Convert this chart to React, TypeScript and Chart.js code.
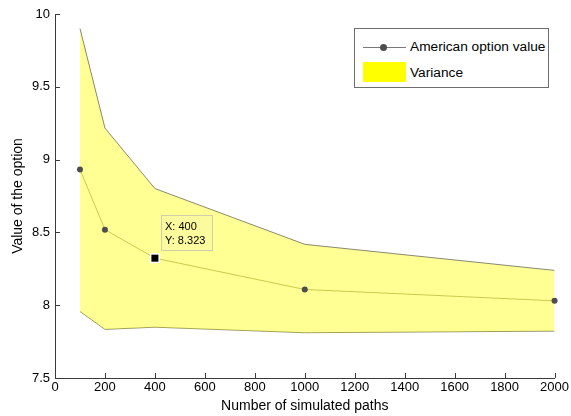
import React, { useEffect, useRef } from "react";
import { Chart, registerables } from "chart.js";

Chart.register(...registerables);

const pathCounts = [100, 200, 400, 1000, 2000];
const optionValue = [8.932, 8.519, 8.323, 8.108, 8.03];
const varianceUpper = [9.9, 9.216, 8.801, 8.418, 8.239];
const varianceLower = [7.957, 7.834, 7.849, 7.811, 7.822];
const datatipX = 400;
const datatipY = 8.323;

const FONT = 'Arial, "Liberation Sans", Helvetica, sans-serif';
const AXIS_COLOR = "#3a3a3a";

const toXY = (ys: number[]) => pathCounts.map((x, i) => ({ x, y: ys[i] }));

const inwardTicks = {
  id: "inwardTicks",
  afterDraw(chart: any) {
    const ctx = chart.ctx;
    const xs = chart.scales.x;
    const ys = chart.scales.y;
    const area = chart.chartArea;
    ctx.save();
    ctx.strokeStyle = AXIS_COLOR;
    ctx.lineWidth = 1;
    ctx.beginPath();
    xs.ticks.forEach((t: any) => {
      const p = Math.round(xs.getPixelForValue(t.value)) + 0.5;
      ctx.moveTo(p, area.bottom);
      ctx.lineTo(p, area.bottom - 5);
    });
    ys.ticks.forEach((t: any) => {
      const p = Math.round(ys.getPixelForValue(t.value)) + 0.5;
      ctx.moveTo(area.left, p);
      ctx.lineTo(area.left + 5, p);
    });
    ctx.stroke();
    ctx.restore();
  },
};

const datatip = {
  id: "datatip",
  afterDatasetsDraw(chart: any) {
    const ctx = chart.ctx;
    const px = chart.scales.x.getPixelForValue(datatipX);
    const py = chart.scales.y.getPixelForValue(datatipY);
    ctx.save();
    const left = Math.round(px + 6) + 0.5;
    const top = Math.round(py - 43) + 0.5;
    const w = 51;
    const h = 35;
    ctx.fillStyle = "#FBFB9E";
    ctx.fillRect(left, top, w, h);
    ctx.strokeStyle = "#CFCFB0";
    ctx.lineWidth = 1;
    ctx.strokeRect(left, top, w, h);
    ctx.fillStyle = "#000";
    ctx.font = `11px ${FONT}`;
    ctx.textBaseline = "alphabetic";
    ctx.textAlign = "left";
    ctx.fillText(`X: ${datatipX}`, left + 3.5, top + 14);
    ctx.fillText(`Y: ${datatipY}`, left + 3.5, top + 28);
    ctx.fillStyle = "#fff";
    ctx.fillRect(px - 5, py - 5, 10, 10);
    ctx.fillStyle = "#000";
    ctx.fillRect(px - 3.5, py - 3.5, 7, 7);
    ctx.restore();
  },
};

export default function App() {
  const ref = useRef<HTMLCanvasElement | null>(null);

  useEffect(() => {
    if (!ref.current) return;
    const chart = new Chart(ref.current, {
      type: "line",
      data: {
        datasets: [
          {
            label: "American option value",
            data: toXY(optionValue),
            borderColor: "#CACA4E",
            borderWidth: 1,
            pointRadius: 3,
            pointBackgroundColor: "#4d4d4d",
            pointBorderColor: "#4d4d4d",
            pointBorderWidth: 0,
            fill: false,
            clip: false,
            order: 0,
          } as any,
          {
            label: "Variance",
            data: toXY(varianceUpper),
            borderColor: "#8a8a6e",
            borderWidth: 1,
            pointRadius: 0,
            backgroundColor: "rgba(255,255,0,0.42)",
            fill: "+1",
            order: 1,
          },
          {
            label: "Variance lower",
            data: toXY(varianceLower),
            borderColor: "#8a8a6e",
            borderWidth: 1,
            pointRadius: 0,
            fill: false,
            order: 2,
          },
        ],
      },
      options: {
        responsive: false,
        animation: false,
        events: [],
        layout: { padding: { top: 14, right: 16, left: 0, bottom: 0 } },
        plugins: { legend: { display: false }, tooltip: { enabled: false } },
        scales: {
          x: {
            type: "linear",
            min: 0,
            max: 2000,
            grid: { display: false, drawTicks: false },
            border: { display: true, color: AXIS_COLOR, width: 1 },
            ticks: {
              stepSize: 200,
              color: "#000",
              font: { family: FONT, size: 13 },
              padding: 2,
              maxRotation: 0,
              autoSkip: false,
              callback: (v: any) => String(Number(v)),
            },
            title: {
              display: true,
              text: "Number of simulated paths",
              color: "#000",
              font: { family: FONT, size: 14 },
              padding: { top: 0, bottom: 1 },
            },
            afterFit(scale: any) {
              scale.height = 38;
            },
          },
          y: {
            type: "linear",
            min: 7.5,
            max: 10,
            grid: { display: false, drawTicks: false },
            border: { display: true, color: AXIS_COLOR, width: 1 },
            ticks: {
              stepSize: 0.5,
              color: "#000",
              font: { family: FONT, size: 13 },
              padding: 5,
              callback: (v: any) => String(Number(v)),
            },
            title: {
              display: true,
              text: "Value of the option",
              color: "#000",
              font: { family: FONT, size: 14 },
              padding: { top: 10, bottom: 0 },
            },
            afterFit(scale: any) {
              scale.width = 55;
            },
          },
        },
      },
      plugins: [inwardTicks, datatip],
    });
    return () => chart.destroy();
  }, []);

  const textStyle: React.CSSProperties = {
    position: "absolute",
    left: 55,
    fontFamily: FONT,
    fontSize: 13.7,
    color: "#000",
    lineHeight: "15px",
    whiteSpace: "nowrap",
  };

  return (
    <div style={{ position: "absolute", left: 0, top: 0, width: 571, height: 416, background: "#fff" }}>
      <canvas ref={ref} width={571} height={416} style={{ display: "block" }} />
      <div
        style={{
          position: "absolute",
          left: 354,
          top: 28,
          width: 193,
          height: 58,
          border: "1px solid #6e6e6e",
          background: "#fff",
          boxSizing: "content-box",
        }}
      >
        <div style={{ position: "absolute", left: 8, top: 18, width: 43, height: 1, background: "#7a7a7a" }} />
        <div
          style={{
            position: "absolute",
            left: 25,
            top: 15,
            width: 7,
            height: 7,
            borderRadius: "50%",
            background: "#4d4d4d",
          }}
        />
        <div style={{ ...textStyle, top: 10 }}>American option value</div>
        <div style={{ position: "absolute", left: 8, top: 33, width: 43, height: 20, background: "#FFFF00" }} />
        <div style={{ ...textStyle, top: 36 }}>Variance</div>
      </div>
    </div>
  );
}
